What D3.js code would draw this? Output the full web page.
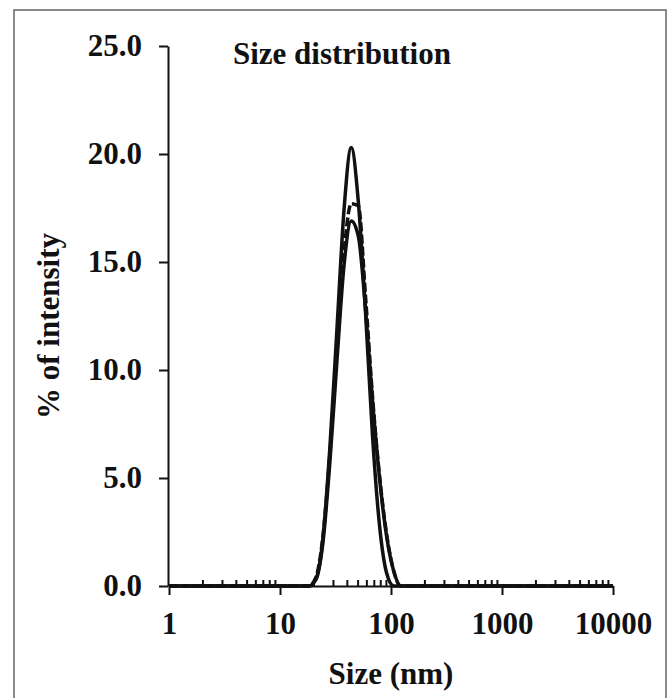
<html>
<head>
<title>size distribution</title>
<style>
    body {
        margin: 0;
        padding: 0;
        background: #ffffff;
    }
    svg text {
        font-family: "Liberation Serif", "Times New Roman", serif;
        font-weight: bold;
        fill: #111;
    }
    .axis path, .axis line {
        stroke: #111;
        stroke-width: 2;
    }
    .curve {
        fill: none;
        stroke: #111;
        stroke-width: 3.5;
        stroke-linejoin: round;
    }
</style>
</head>
<body>
<svg width="669" height="698"></svg>
<script src="https://d3js.org/d3.v7.min.js"></script>
<script>
// size bins (nm)
var sizes = [1, 18.17, 21.04, 24.36, 28.21, 32.67, 37.84, 43.82, 50.75, 58.77, 68.06, 78.82, 91.28, 105.7, 122.4, 141.8, 10000];
var seriesTall   = [0, 0, 0.3, 2.2, 6.5, 12.0, 17.5, 20.3, 17.8, 12.8, 7.0, 2.8, 0.6, 0, 0, 0, 0];
var seriesLow    = [0, 0, 0.3, 2.0, 5.8, 10.5, 14.9, 16.9, 16.2, 12.9, 8.6, 5.0, 2.3, 0.7, 0, 0, 0];
var seriesDashed = [0, 0, 0.4, 2.3, 6.2, 11.0, 15.5, 17.7, 17.6, 13.5, 8.8, 5.1, 2.4, 0.7, 0, 0, 0];

var xMajor = [1, 10, 100, 1000, 10000];
var yTicks = [0, 5, 10, 15, 20, 25];

var svg = d3.select("svg");

// outer frame
svg.append("rect")
    .attr("x", 14).attr("y", 10)
    .attr("width", 652).attr("height", 700)
    .attr("fill", "none")
    .attr("stroke", "#666")
    .attr("stroke-width", 1.5);

var x = d3.scaleLog().domain([1, 10000]).range([169, 613]);
var y = d3.scaleLinear().domain([0, 25]).range([586, 46]);

// minor ticks 2..9 of each decade, pointing up
var xMinor = [];
xMajor.slice(0, -1).forEach(function(d) {
    for (var k = 2; k < 10; k++) xMinor.push(d * k);
});

svg.append("g")
    .attr("class", "axis")
    .attr("transform", "translate(0,586)")
    .call(d3.axisTop(x).tickValues(xMinor).tickSize(6).tickFormat(""))
    .call(function(g) { g.select(".domain").remove(); });

svg.append("g")
    .attr("class", "axis")
    .attr("transform", "translate(0,586)")
    .call(d3.axisBottom(x).tickValues(xMajor).tickSize(9).tickSizeOuter(0).tickPadding(17).tickFormat(d3.format("d")))
    .selectAll("text").style("font-size", "31px");

svg.append("g")
    .attr("class", "axis")
    .attr("transform", "translate(168,0)")
    .call(d3.axisLeft(y).tickValues(yTicks).tickSize(9).tickSizeOuter(0).tickPadding(17).tickFormat(d3.format(".1f")))
    .selectAll("text").style("font-size", "31px");

// curves
var line = d3.line()
    .x(function(d) { return x(d[0]); })
    .y(function(d) { return y(d[1]); })
    .curve(d3.curveMonotoneX);

function pairs(vals) {
    return sizes.map(function(s, i) { return [s, vals[i]]; });
}

svg.append("path").attr("class", "curve").attr("d", line(pairs(seriesLow)));
svg.append("path").attr("class", "curve").attr("d", line(pairs(seriesDashed)))
    .attr("stroke-dasharray", "9,3");
svg.append("path").attr("class", "curve").attr("d", line(pairs(seriesTall)));

// titles
svg.append("text")
    .attr("x", 233).attr("y", 64)
    .style("font-size", "31px")
    .text("Size distribution");

svg.append("text")
    .attr("transform", "translate(59,326) rotate(-90)")
    .attr("text-anchor", "middle")
    .style("font-size", "31px")
    .text("% of intensity");

svg.append("text")
    .attr("x", 391).attr("y", 684)
    .attr("text-anchor", "middle")
    .style("font-size", "31px")
    .text("Size (nm)");
</script>
</body>
</html>
